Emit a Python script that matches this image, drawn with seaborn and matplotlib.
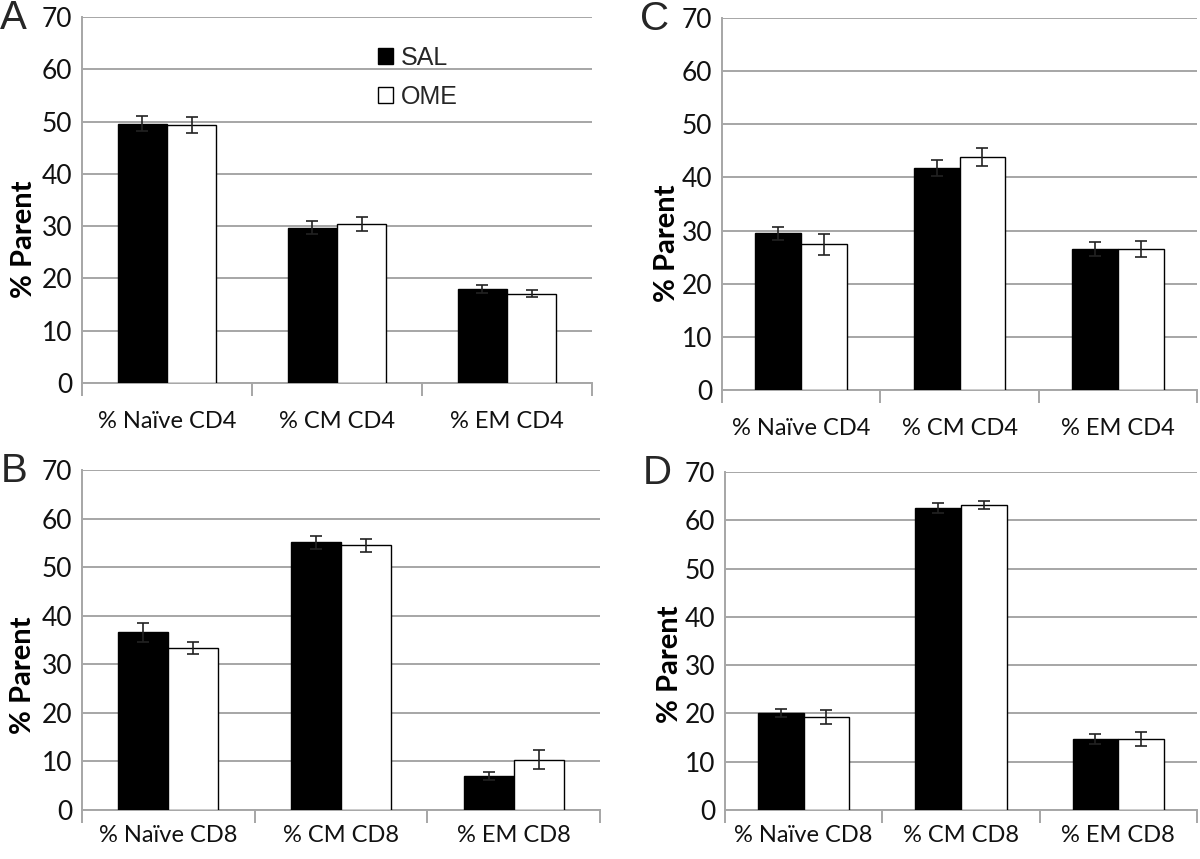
import numpy as np
import pandas as pd
import matplotlib
matplotlib.use("Agg")
import matplotlib.pyplot as plt
import seaborn as sns

# values (% of parent)
groups = ["SAL", "OME"]
cd4_labels = ["% Naïve CD4", "% CM CD4", "% EM CD4"]
cd8_labels = ["% Naïve CD8", "% CM CD8", "% EM CD8"]

a_sal = [49.6, 29.7, 18.0]
a_ome = [49.3, 30.4, 17.1]
a_sal_err = [1.4, 1.2, 0.8]
a_ome_err = [1.5, 1.4, 0.7]

b_sal = [36.6, 55.1, 7.0]
b_ome = [33.4, 54.5, 10.4]
b_sal_err = [1.9, 1.4, 0.8]
b_ome_err = [1.2, 1.4, 2.0]

c_sal = [29.5, 41.7, 26.5]
c_ome = [27.4, 43.9, 26.5]
c_sal_err = [1.2, 1.5, 1.3]
c_ome_err = [2.0, 1.7, 1.5]

d_sal = [20.1, 62.5, 14.7]
d_ome = [19.3, 63.2, 14.7]
d_sal_err = [0.9, 1.0, 1.1]
d_ome_err = [1.4, 0.8, 1.4]

sns.set_theme(style="white")
plt.rcParams["font.family"] = ["Lato", "DejaVu Sans"]

GRID = "#a6a6a6"
ARIAL = ["Liberation Sans", "DejaVu Sans"]

fig = plt.figure(figsize=(12, 8.59), dpi=100)


def panel(rect, labels, sal, ome, sal_err, ome_err, letter, ylab_y,
          xpad=20, legend=False):
    ax = fig.add_axes(rect)
    df = pd.DataFrame({
        "cell": labels * 2,
        "group": ["SAL"] * 3 + ["OME"] * 3,
        "value": sal + ome,
    })
    sns.barplot(data=df, x="cell", y="value", hue="group", hue_order=groups,
                palette=["black", "white"], edgecolor="black", linewidth=1.0,
                width=0.58, errorbar=None, legend=False, ax=ax, zorder=3)
    # error bars on top of the seaborn bars
    for cont, err in zip(ax.containers, [sal_err, ome_err]):
        xs = [p.get_x() + p.get_width() / 2 for p in cont.patches]
        ys = [p.get_height() for p in cont.patches]
        ax.errorbar(xs, ys, yerr=err, fmt="none", ecolor="#222222",
                    elinewidth=1.2, capsize=4.5, capthick=1.2, zorder=4)
    ax.set_ylim(0, 70)
    ax.set_xlim(-0.5, 2.5)
    ax.set_yticks(range(0, 71, 10))
    ax.yaxis.grid(True, color=GRID, linewidth=1.4)
    ax.set_axisbelow(True)
    for s in ["top", "right"]:
        ax.spines[s].set_visible(False)
    for s in ["left", "bottom"]:
        ax.spines[s].set_color(GRID)
        ax.spines[s].set_linewidth(1.4)
    ax.set_xlabel("")
    ax.set_ylabel("% Parent", fontsize=21, fontweight="bold", color="black")
    ax.yaxis.set_label_coords(-0.089, ylab_y)
    ax.tick_params(axis="y", length=0, pad=7, labelsize=19, labelcolor="#111111")
    ax.tick_params(axis="x", which="major", length=0, pad=xpad, labelsize=17,
                   labelcolor="#111111")
    ax.set_xticks([-0.5, 0.5, 1.5, 2.5], minor=True)
    ax.tick_params(axis="x", which="minor", length=9, width=1.4, color=GRID,
                   direction="out", bottom=True)
    fig.text(rect[0] - 0.068, rect[1] + rect[3] + 0.021, letter, fontsize=29,
             family=ARIAL, va="top", ha="left")
    if legend:
        handles = [plt.Rectangle((0, 0), 1, 1, facecolor=c, edgecolor="black",
                                 linewidth=1.0) for c in ["black", "white"]]
        ax.legend(handles, groups, loc="upper left", bbox_to_anchor=(0.555, 0.955),
                  frameon=False, handlelength=0.62, handleheight=0.62,
                  handletextpad=0.3, labelspacing=0.6, borderpad=0,
                  prop={"family": ARIAL, "size": 18})
    return ax


panel([0.0683, 0.5541, 0.4250, 0.4261], cd4_labels, a_sal, a_ome,
      a_sal_err, a_ome_err, "A", 0.393, legend=True)
panel([0.6017, 0.5460, 0.3958, 0.4330], cd4_labels, c_sal, c_ome,
      c_sal_err, c_ome_err, "C", 0.395)
panel([0.0683, 0.0570, 0.4317, 0.3957], cd8_labels, b_sal, b_ome,
      b_sal_err, b_ome_err, "B", 0.398, xpad=11)
panel([0.6040, 0.0570, 0.3935, 0.3936], cd8_labels, d_sal, d_ome,
      d_sal_err, d_ome_err, "D", 0.43, xpad=11)

fig.savefig("out.png", dpi=100)
